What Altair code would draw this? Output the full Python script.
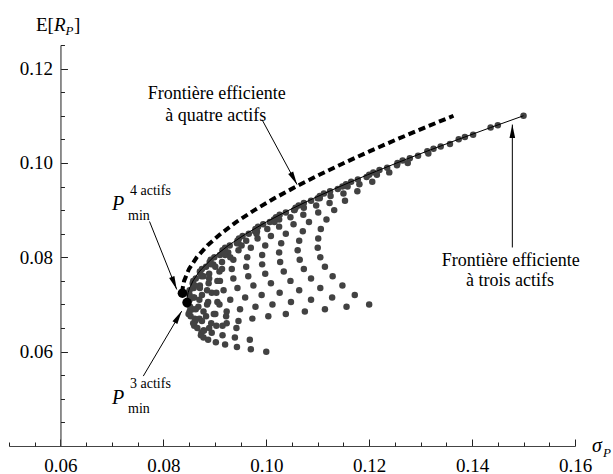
import altair as alt
import pandas as pd

# ---------------- data ----------------
# portfolio cloud, one arc per weight of the first asset
arc_sigma = [
    [0.1200, 0.1172, 0.1148, 0.1129, 0.1114, 0.1105, 0.1100, 0.1101, 0.1106, 0.1117, 0.1132,
     0.1153, 0.1177, 0.1206, 0.1239, 0.1275, 0.1315, 0.1357, 0.1402, 0.1450, 0.1500],
    [0.1156, 0.1128, 0.1105, 0.1087, 0.1073, 0.1065, 0.1061, 0.1064, 0.1071, 0.1083, 0.1101,
     0.1123, 0.1150, 0.1181, 0.1215, 0.1254, 0.1295, 0.1339, 0.1386, 0.1436],
    [0.1114, 0.1087, 0.1064, 0.1047, 0.1034, 0.1027, 0.1025, 0.1029, 0.1038, 0.1053, 0.1072,
     0.1097, 0.1125, 0.1158, 0.1195, 0.1235, 0.1279, 0.1325, 0.1374],
    [0.1075, 0.1048, 0.1026, 0.1009, 0.0998, 0.0992, 0.0992, 0.0998, 0.1009, 0.1025, 0.1047,
     0.1073, 0.1104, 0.1139, 0.1178, 0.1220, 0.1265, 0.1313],
    [0.1038, 0.1012, 0.0991, 0.0975, 0.0965, 0.0961, 0.0963, 0.0970, 0.0983, 0.1002, 0.1025,
     0.1054, 0.1087, 0.1124, 0.1165, 0.1208, 0.1255],
    [0.1004, 0.0979, 0.0959, 0.0944, 0.0936, 0.0933, 0.0936, 0.0946, 0.0961, 0.0982, 0.1007,
     0.1038, 0.1073, 0.1112, 0.1155, 0.1200],
    [0.0973, 0.0949, 0.0930, 0.0917, 0.0910, 0.0909, 0.0914, 0.0926, 0.0943, 0.0966, 0.0994,
     0.1026, 0.1063, 0.1104, 0.1148],
    [0.0946, 0.0923, 0.0905, 0.0894, 0.0888, 0.0889, 0.0897, 0.0910, 0.0929, 0.0954, 0.0984,
     0.1019, 0.1057, 0.1100],
    [0.0923, 0.0901, 0.0885, 0.0875, 0.0871, 0.0874, 0.0883, 0.0899, 0.0920, 0.0947, 0.0979,
     0.1015, 0.1055],
    [0.0903, 0.0883, 0.0868, 0.0860, 0.0859, 0.0863, 0.0875, 0.0892, 0.0915, 0.0944, 0.0978, 0.1016],
    [0.0889, 0.0870, 0.0857, 0.0851, 0.0851, 0.0858, 0.0871, 0.0890, 0.0915, 0.0946, 0.0981],
    [0.0879, 0.0862, 0.0851, 0.0846, 0.0848, 0.0857, 0.0872, 0.0893, 0.0920, 0.0952],
    [0.0874, 0.0858, 0.0849, 0.0847, 0.0851, 0.0861, 0.0878, 0.0901, 0.0930],
    [0.0873, 0.0860, 0.0853, 0.0852, 0.0858, 0.0871, 0.0889, 0.0914],
    [0.0878, 0.0866, 0.0861, 0.0863, 0.0870, 0.0885, 0.0905],
    [0.0887, 0.0878, 0.0875, 0.0878, 0.0887, 0.0903],
    [0.0902, 0.0894, 0.0893, 0.0898, 0.0909],
    [0.0920, 0.0915, 0.0915, 0.0922],
    [0.0943, 0.0939, 0.0942],
    [0.0970, 0.0968],
    [0.1000],
]
arc_mu = [
    [0.070, 0.072, 0.074, 0.076, 0.078, 0.080, 0.082, 0.084, 0.086, 0.088, 0.090,
     0.092, 0.094, 0.096, 0.098, 0.100, 0.102, 0.104, 0.106, 0.108, 0.110],
    [0.0695, 0.0715, 0.0735, 0.0755, 0.0775, 0.0795, 0.0815, 0.0835, 0.0855, 0.0875, 0.0895,
     0.0915, 0.0935, 0.0955, 0.0975, 0.0995, 0.1015, 0.1035, 0.1055, 0.1075],
    [0.069, 0.071, 0.073, 0.075, 0.077, 0.079, 0.081, 0.083, 0.085, 0.087, 0.089,
     0.091, 0.093, 0.095, 0.097, 0.099, 0.101, 0.103, 0.105],
    [0.0685, 0.0705, 0.0725, 0.0745, 0.0765, 0.0785, 0.0805, 0.0825, 0.0845, 0.0865, 0.0885,
     0.0905, 0.0925, 0.0945, 0.0965, 0.0985, 0.1005, 0.1025],
    [0.068, 0.070, 0.072, 0.074, 0.076, 0.078, 0.080, 0.082, 0.084, 0.086, 0.088,
     0.090, 0.092, 0.094, 0.096, 0.098, 0.100],
    [0.0675, 0.0695, 0.0715, 0.0735, 0.0755, 0.0775, 0.0795, 0.0815, 0.0835, 0.0855, 0.0875,
     0.0895, 0.0915, 0.0935, 0.0955, 0.0975],
    [0.067, 0.069, 0.071, 0.073, 0.075, 0.077, 0.079, 0.081, 0.083, 0.085, 0.087,
     0.089, 0.091, 0.093, 0.095],
    [0.0665, 0.0685, 0.0705, 0.0725, 0.0745, 0.0765, 0.0785, 0.0805, 0.0825, 0.0845, 0.0865,
     0.0885, 0.0905, 0.0925],
    [0.066, 0.068, 0.070, 0.072, 0.074, 0.076, 0.078, 0.080, 0.082, 0.084, 0.086,
     0.088, 0.090],
    [0.0655, 0.0675, 0.0695, 0.0715, 0.0735, 0.0755, 0.0775, 0.0795, 0.0815, 0.0835, 0.0855, 0.0875],
    [0.065, 0.067, 0.069, 0.071, 0.073, 0.075, 0.077, 0.079, 0.081, 0.083, 0.085],
    [0.0645, 0.0665, 0.0685, 0.0705, 0.0725, 0.0745, 0.0765, 0.0785, 0.0805, 0.0825],
    [0.064, 0.066, 0.068, 0.070, 0.072, 0.074, 0.076, 0.078, 0.080],
    [0.0635, 0.0655, 0.0675, 0.0695, 0.0715, 0.0735, 0.0755, 0.0775],
    [0.063, 0.065, 0.067, 0.069, 0.071, 0.073, 0.075],
    [0.0625, 0.0645, 0.0665, 0.0685, 0.0705, 0.0725],
    [0.062, 0.064, 0.066, 0.068, 0.070],
    [0.0615, 0.0635, 0.0655, 0.0675],
    [0.061, 0.063, 0.065],
    [0.0605, 0.0625],
    [0.060],
]

frontier3_sigma = [0.08457, 0.08463, 0.08481, 0.08511, 0.08577, 0.08667, 0.08741, 0.08971,
                   0.09262, 0.09608, 0.10003, 0.10442, 0.10920, 0.11431, 0.11972, 0.12538,
                   0.13126, 0.13734, 0.14359, 0.15000]
frontier3_mu = [0.0704, 0.0715, 0.0725, 0.0735, 0.0750, 0.0765, 0.0775, 0.0800,
                0.0825, 0.0850, 0.0875, 0.0900, 0.0925, 0.0950, 0.0975, 0.1000,
                0.1025, 0.1050, 0.1075, 0.1100]

frontier4_sigma = [0.08370, 0.08376, 0.08403, 0.08497, 0.08648, 0.08856, 0.09115, 0.09421,
                   0.09770, 0.10158, 0.10580, 0.11033, 0.11512, 0.12015, 0.12538, 0.13080,
                   0.13638]
frontier4_mu = [0.0724, 0.0735, 0.0750, 0.0775, 0.0800, 0.0825, 0.0850, 0.0875,
                0.0900, 0.0925, 0.0950, 0.0975, 0.1000, 0.1025, 0.1050, 0.1075,
                0.1100]

pmin_sigma = [0.0837, 0.0846]
pmin_mu = [0.0724, 0.0704]

x_ticks_major = [0.06, 0.08, 0.10, 0.12, 0.14, 0.16]
x_ticks_minor = [0.05, 0.055, 0.065, 0.07, 0.075, 0.085, 0.09, 0.095, 0.105, 0.11,
                 0.115, 0.125, 0.13, 0.135, 0.145, 0.15, 0.155]
y_ticks_major = [0.06, 0.08, 0.10, 0.12]
y_ticks_minor = [0.045, 0.05, 0.055, 0.065, 0.07, 0.075, 0.085, 0.09, 0.095,
                 0.105, 0.11, 0.115, 0.125]

# annotations (positions in data units)
ann_text = ["Frontière efficiente", "à quatre actifs", "Frontière efficiente", "à trois actifs"]
ann_x = [0.09037, 0.09017, 0.14751, 0.14738]
ann_y = [0.11469, 0.11003, 0.07911, 0.07488]

arrow_x1 = [0.09917, 0.14782, 0.07731, 0.07610]
arrow_y1 = [0.10919, 0.08208, 0.08759, 0.05482]
arrow_x2 = [0.10598, 0.14782, 0.08260, 0.08357]
arrow_y2 = [0.09542, 0.10813, 0.07318, 0.06859]
arrow_angle = [151.7, 0.0, 158.2, 30.6]

plain_text = ["E[", "]", "4 actifs", "min", "3 actifs", "min"]
plain_x = [0.05525, 0.06263, 0.07352, 0.07313, 0.07352, 0.07313]
plain_y = [0.12803, 0.12803, 0.09330, 0.08800, 0.05222, 0.04692]
plain_size = [19, 19, 14, 14, 14, 14]

ital_text = ["R", "P", "P", "P", "σ", "P"]
ital_x = [0.05875, 0.06098, 0.07002, 0.07002, 0.16331, 0.16545]
ital_y = [0.12803, 0.12719, 0.08992, 0.04883, 0.03880, 0.03775]
ital_size = [19, 13, 20, 20, 20, 13]

# ---------------- frames ----------------
cloud = pd.DataFrame({
    "sigma": [s for arc in arc_sigma for s in arc],
    "mu": [m for arc in arc_mu for m in arc],
})
f3 = pd.DataFrame({"sigma": frontier3_sigma, "mu": frontier3_mu})
f4 = pd.DataFrame({"sigma": frontier4_sigma, "mu": frontier4_mu})
pm = pd.DataFrame({"sigma": pmin_sigma, "mu": pmin_mu})
ann = pd.DataFrame({"x": ann_x, "y": ann_y, "t": ann_text})
arr = pd.DataFrame({"x": arrow_x1, "y": arrow_y1, "x2": arrow_x2, "y2": arrow_y2,
                    "angle": arrow_angle})
plain = pd.DataFrame({"x": plain_x, "y": plain_y, "t": plain_text, "s": plain_size})
ital = pd.DataFrame({"x": ital_x, "y": ital_y, "t": ital_text, "s": ital_size})

FONT = "Liberation Serif"
XS = alt.Scale(domain=[0.05, 0.16], nice=False, zero=False)
YS = alt.Scale(domain=[0.04, 0.125], nice=False, zero=False)
W, H = 566, 401
Y_OFF = -(W - (0.06 - 0.05) / 0.11 * W)

x_major = alt.Axis(orient="top", offset=-H, values=x_ticks_major, format=".2f",
                   tickSize=7, tickWidth=1, tickColor="#222222",
                   domain=True, domainColor="#444444", domainWidth=1.2,
                   labelFont=FONT, labelFontSize=19, labelColor="black",
                   labelBaseline="alphabetic", labelPadding=-32,
                   labelFlush=False, labelOverlap=False, grid=False, title=None)
x_minor = alt.Axis(orient="top", offset=-H, values=x_ticks_minor, tickSize=4,
                   tickWidth=1, tickColor="#222222", labels=False, domain=False,
                   grid=False, title=None)
y_major = alt.Axis(orient="right", offset=Y_OFF, values=y_ticks_major, format=".2f",
                   tickSize=7, tickWidth=1, tickColor="#222222",
                   domain=True, domainColor="#444444", domainWidth=1.2,
                   labelFont=FONT, labelFontSize=19, labelColor="black",
                   labelAlign="right", labelBaseline="middle", labelPadding=-15,
                   labelFlush=False, labelOverlap=False, grid=False, title=None)
y_minor = alt.Axis(orient="right", offset=Y_OFF, values=y_ticks_minor, tickSize=4,
                   tickWidth=1, tickColor="#222222", labels=False, domain=False,
                   grid=False, title=None)

dots = alt.Chart(cloud).mark_circle(size=42, color="#424242", opacity=1).encode(
    x=alt.X("sigma:Q", scale=XS, axis=x_major),
    y=alt.Y("mu:Q", scale=YS, axis=y_major),
)
line3 = alt.Chart(f3).mark_line(color="black", strokeWidth=1).encode(
    x=alt.X("sigma:Q", scale=XS, axis=x_minor),
    y=alt.Y("mu:Q", scale=YS, axis=y_minor),
    order="mu:Q",
)
line4 = alt.Chart(f4).mark_line(color="black", strokeWidth=4, strokeDash=[7, 4]).encode(
    x=alt.X("sigma:Q", scale=XS, axis=None),
    y=alt.Y("mu:Q", scale=YS, axis=None),
    order="mu:Q",
)
black = alt.Chart(pm).mark_circle(size=90, color="black", opacity=1).encode(
    x=alt.X("sigma:Q", scale=XS, axis=None),
    y=alt.Y("mu:Q", scale=YS, axis=None),
)
rules = alt.Chart(arr).mark_rule(color="black", strokeWidth=1).encode(
    x=alt.X("x:Q", scale=XS, axis=None),
    y=alt.Y("y:Q", scale=YS, axis=None),
    x2="x2:Q",
    y2="y2:Q",
)
heads = alt.Chart(arr).mark_point(shape="M0,0L0.42,2L-0.42,2Z", filled=True,
                                  color="black", opacity=1, size=180).encode(
    x=alt.X("x2:Q", scale=XS, axis=None),
    y=alt.Y("y2:Q", scale=YS, axis=None),
    angle=alt.Angle("angle:Q", scale=None),
)
ann_layer = alt.Chart(ann).mark_text(font=FONT, fontSize=18, color="black",
                                     align="center", baseline="middle").encode(
    x=alt.X("x:Q", scale=XS, axis=None),
    y=alt.Y("y:Q", scale=YS, axis=None),
    text="t:N",
)
plain_layer = alt.Chart(plain).mark_text(font=FONT, color="black", align="left",
                                         baseline="alphabetic").encode(
    x=alt.X("x:Q", scale=XS, axis=None),
    y=alt.Y("y:Q", scale=YS, axis=None),
    text="t:N",
    size=alt.Size("s:Q", scale=None),
)
ital_layer = alt.Chart(ital).mark_text(font=FONT, fontStyle="italic", color="black",
                                       align="left", baseline="alphabetic").encode(
    x=alt.X("x:Q", scale=XS, axis=None),
    y=alt.Y("y:Q", scale=YS, axis=None),
    text="t:N",
    size=alt.Size("s:Q", scale=None),
)

chart = alt.layer(
    dots, line3, line4, black, rules, heads, ann_layer, plain_layer, ital_layer
).resolve_axis(x="independent", y="independent").properties(
    width=W, height=H,
    autosize=alt.AutoSizeParams(type="none"),
    padding={"left": 9, "top": 45, "right": 38, "bottom": 28},
    background="white",
).configure_view(stroke=None)

chart.save("out.html", embed_options={"renderer": "svg", "actions": False})
